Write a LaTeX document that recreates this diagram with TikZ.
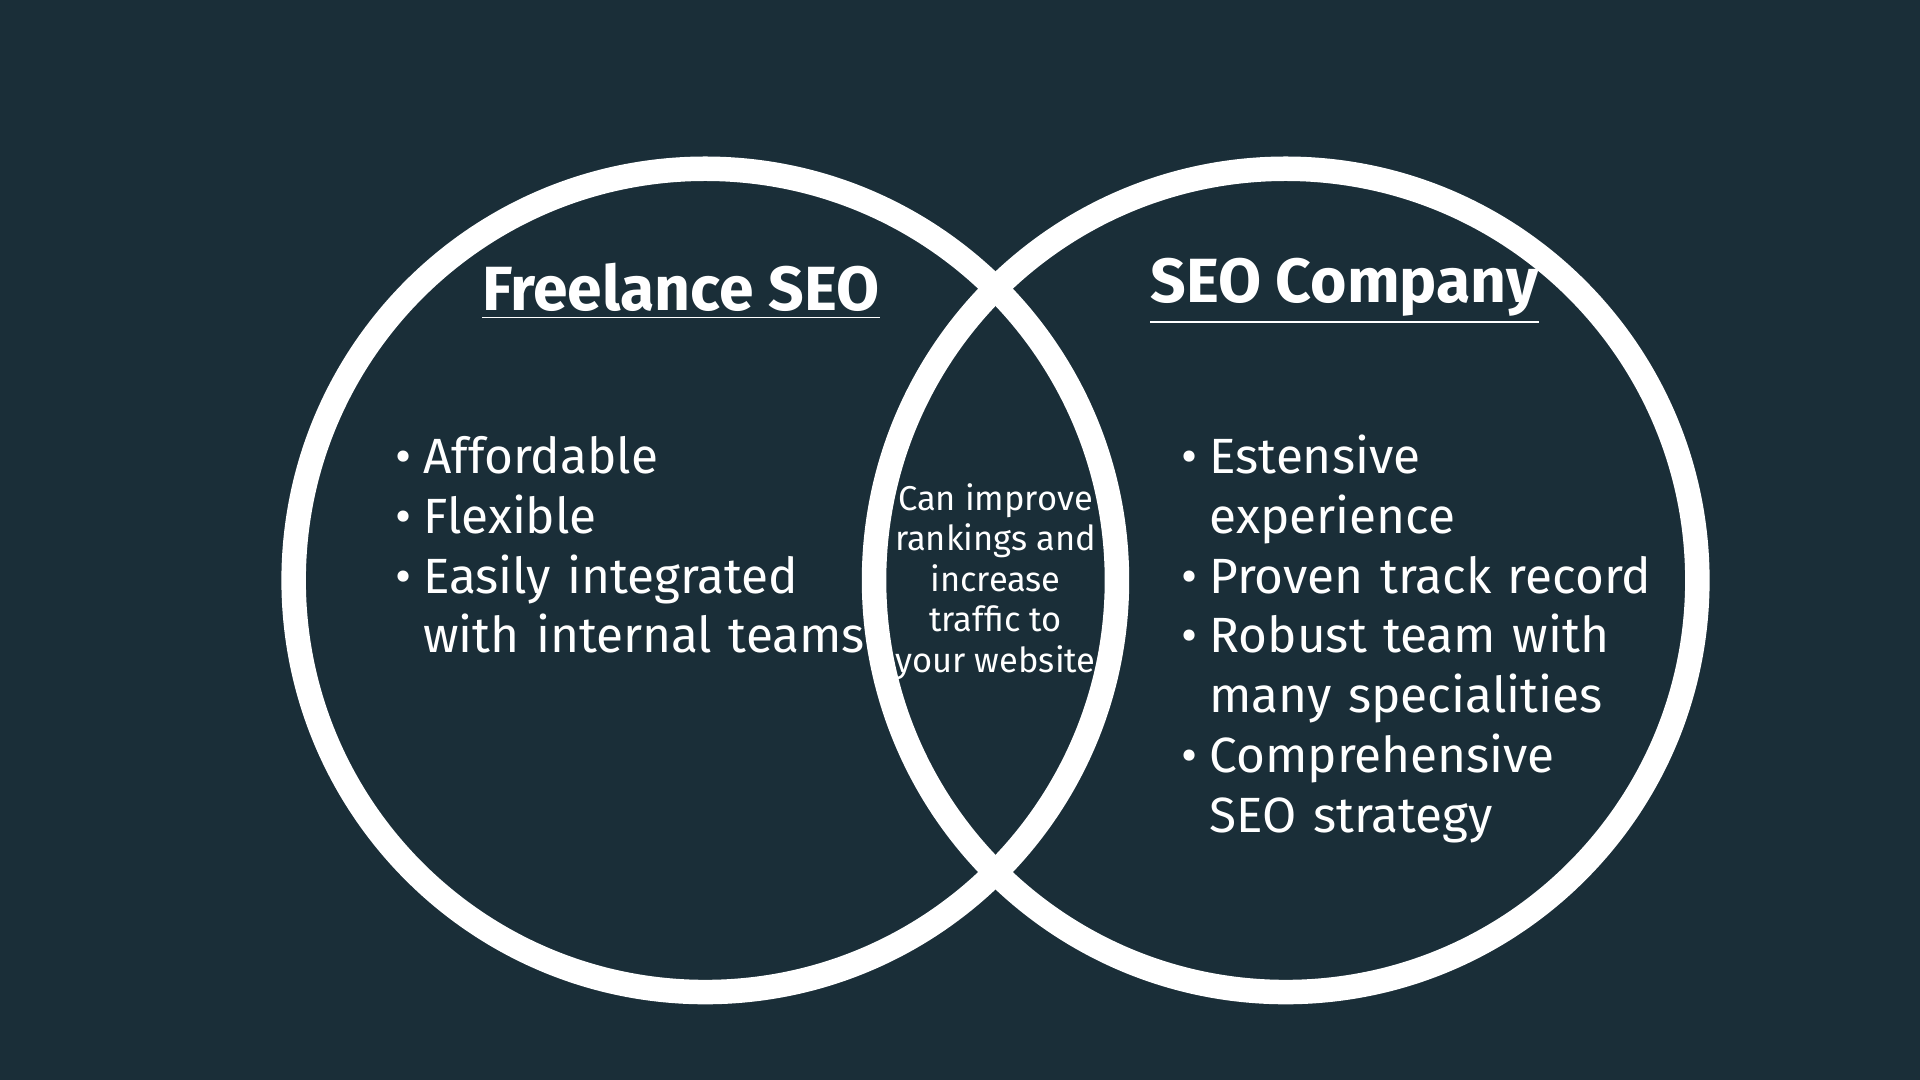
\documentclass[tikz,border=0pt]{standalone}
\usepackage{fontspec}
\setmainfont{Fira Sans}
\usepackage{enumitem}
\definecolor{venbg}{HTML}{1A2E38}
\tikzstyle{ring}=[draw=white,line width=0.2cm]
\tikzstyle{listtext}=[text=white,inner sep=0pt,anchor=north west,text width=4.2cm,font=\fontsize{11.5}{13.9}\selectfont]
\begin{document}
\begin{tikzpicture}[x=0.01cm,y=-0.01cm]
    \fill[venbg] (0,0) rectangle (1568,882);
    \useasboundingbox (0,0) rectangle (1568,882);
    \draw[ring] (576,474) circle (3.36cm);
    \draw[ring] (1050,474) circle (3.36cm);
    \node[text=white,font=\fontsize{14.5}{16}\selectfont\bfseries] (freetitle) at (556,238) {\underline{Freelance SEO}};
    \node[text=white,font=\fontsize{14.5}{16}\selectfont\bfseries] (comptitle) at (1098,238) {\underline{SEO Company}};
    \node[listtext] (freelist) at (312,337) {%
      \begin{itemize}[leftmargin=0.33cm,labelsep=0.1cm,itemsep=0pt,parsep=0pt,topsep=0pt]
      \item Affordable
      \item Flexible
      \item Easily integrated with internal teams
      \end{itemize}};
    \node[listtext] (complist) at (954,337) {%
      \begin{itemize}[leftmargin=0.33cm,labelsep=0.1cm,itemsep=0pt,parsep=0pt,topsep=0pt]
      \item Estensive\\experience
      \item Proven track record
      \item Robust team with many specialities
      \item Comprehensive\\SEO strategy
      \end{itemize}};
    \node[text=white,align=center,font=\fontsize{8}{9.4}\selectfont] (shared) at (813,475)
      {Can improve\\rankings and\\increase\\traffic to\\your website};
\end{tikzpicture}
\end{document}
